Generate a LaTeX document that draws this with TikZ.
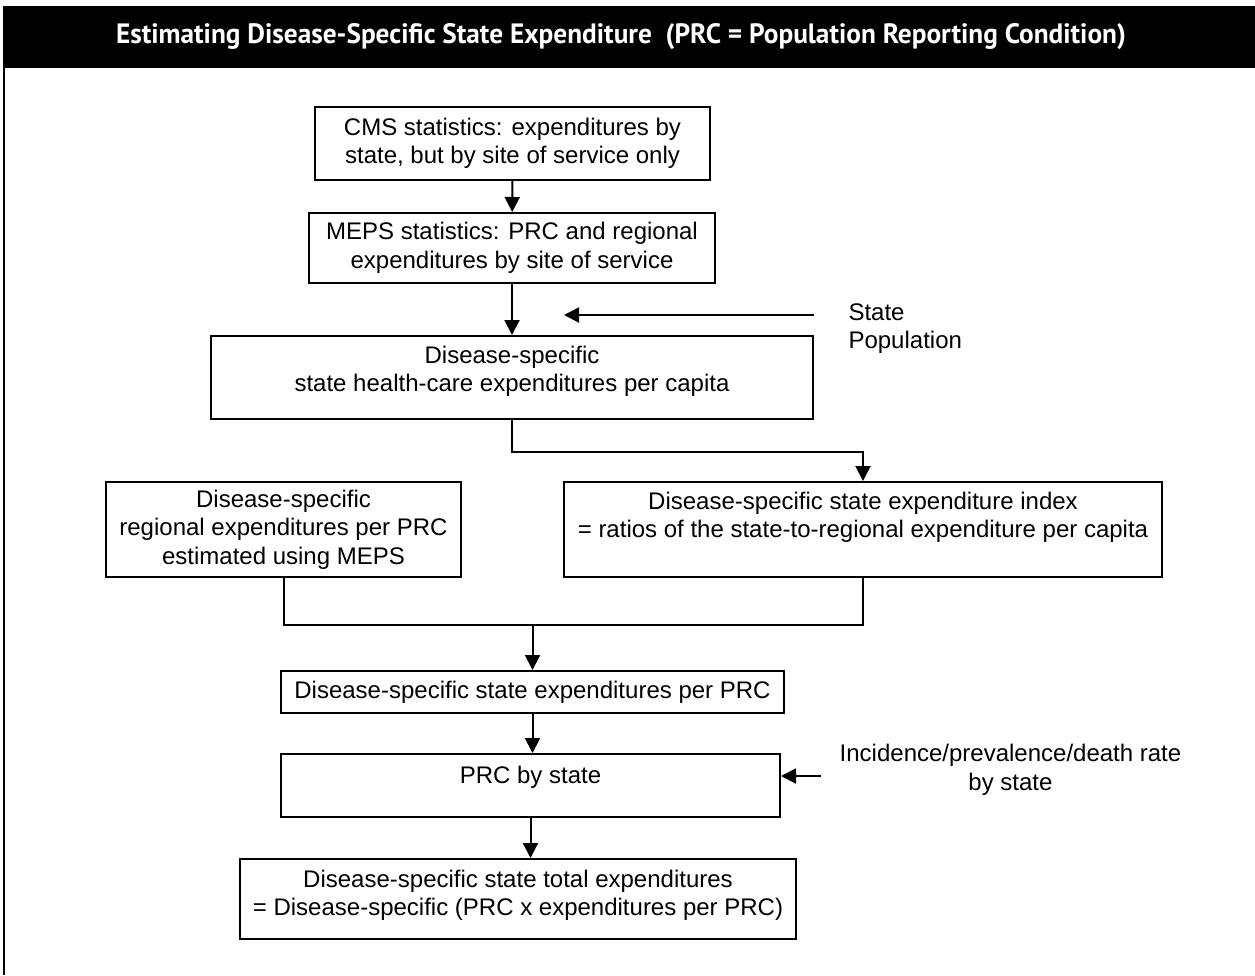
\documentclass[tikz,border=0pt]{standalone}
\usepackage{fontspec}
\usepackage{graphicx}
\setmainfont{Liberation Sans}
\newfontfamily\titlefont{PT Sans}
\usetikzlibrary{arrows.meta}
\tikzset{
    box/.style={draw, line width=2pt, align=center, inner sep=0pt},
    arr/.style={line width=2pt, -{Triangle[width=15pt,length=15pt]}},
}
\begin{document}
\begin{tikzpicture}[x=1pt, y=-1pt, font=\fontsize{24}{28.5}\selectfont]
        \useasboundingbox (0,0) rectangle (1255,975);
        % header and frame
        \fill (3,6) rectangle (1255,68);
        \draw [line width=2pt] (4,68) -- (4,975);
        \node [text=white] (Title) at (621,37) {\resizebox{1010pt}{\height}{\titlefont\fontsize{28}{30}\selectfont\bfseries Estimating Disease-Specific State Expenditure\ \ (PRC = Population Reporting Condition)}};
        % boxes
        \node [box, minimum width=395pt, minimum height=73pt] (CMS) at (512.5, 143.5) {CMS statistics: expenditures by\\state, but by site of service only};
        \node [box, minimum width=406pt, minimum height=70pt] (MEPS) at (512, 248) {MEPS statistics: PRC and regional\\expenditures by site of service};
        \node [box, minimum width=602pt, minimum height=83pt, text depth=17pt] (PerCap) at (512, 377.5) {Disease-specific\\state health-care expenditures per capita};
        \node [box, minimum width=355pt, minimum height=95pt] (Regional) at (283.5, 529.5) {Disease-specific\\regional expenditures per PRC\\estimated using MEPS};
        \node [box, minimum width=598pt, minimum height=95pt, text depth=29pt] (Index) at (863, 529.5) {Disease-specific state expenditure index\\= ratios of the state-to-regional expenditure per capita};
        \node [box, minimum width=503pt, minimum height=42pt] (PerPRC) at (532.5, 692) {Disease-specific state expenditures per PRC};
        \node [box, minimum width=499pt, minimum height=63pt, text depth=22pt] (PRCState) at (530.5, 785.5) {PRC by state};
        \node [box, minimum width=556pt, minimum height=80pt, text depth=12pt] (Total) at (518, 899) {Disease-specific state total expenditures\\= Disease-specific (PRC x expenditures per PRC)};
        % side inputs
        \node [align=left, anchor=west] (StatePop) at (845, 328.5) {State\\Population};
        \node [align=center] (Incid) at (1010.5, 770) {Incidence/prevalence/death rate\\by state};
        \coordinate (PopTip) at (564, 315);
        \coordinate (IncidStart) at (821, 776);
        % connectors
        \path [arr] (CMS) edge (MEPS);
        \path [arr] (MEPS) edge (PerCap);
        \draw [arr] (PopTip -| PerCap.east) -- (PopTip);
        \draw [arr] (PerCap.south) -- ++(0,32) -| (Index.north);
        \draw [line width=2pt] (Regional.south) -- ++(0,47) coordinate (Merge) -| (Index.south);
        \draw [arr] (Merge -| PerPRC.north) -- (PerPRC.north);
        \draw [arr] (PerPRC.south) -- (PerPRC.south |- PRCState.north);
        \draw [arr] (IncidStart) -- (IncidStart -| PRCState.east);
        \draw [arr] (PRCState.south) -- (PRCState.south |- Total.north);
    \end{tikzpicture}
\end{document}
